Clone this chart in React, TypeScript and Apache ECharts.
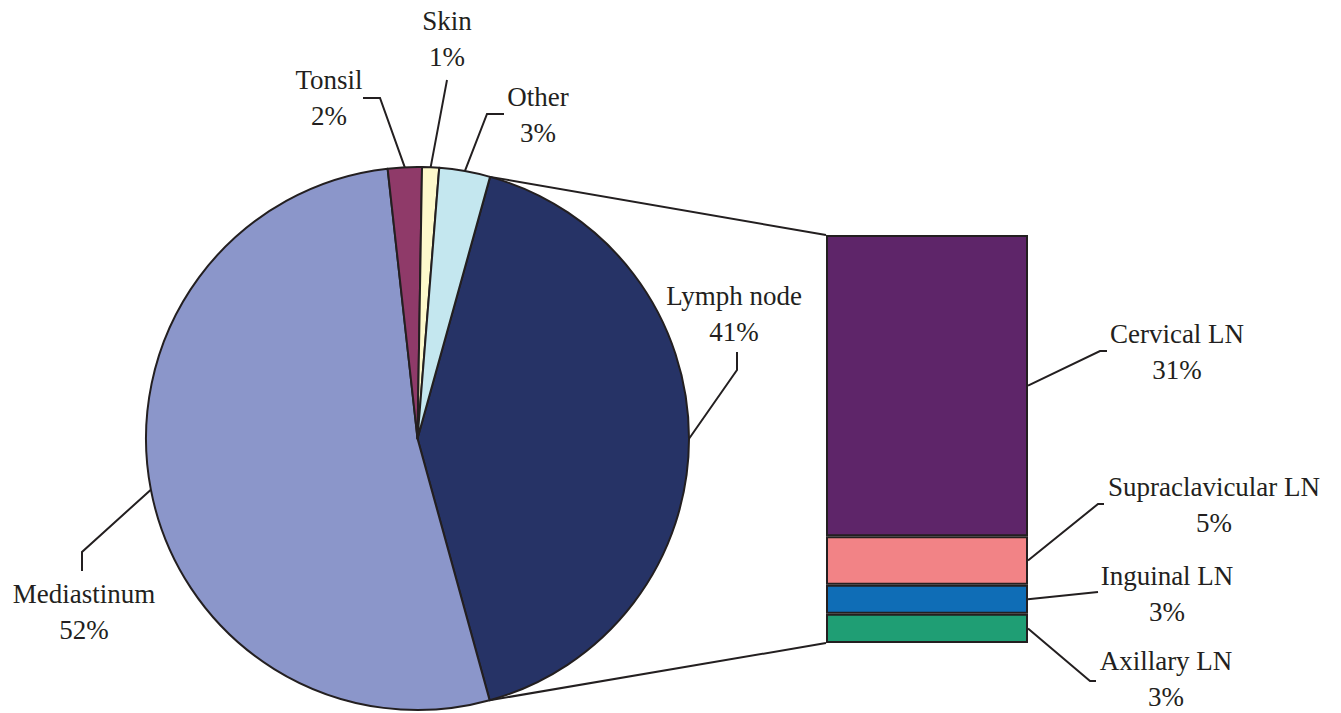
import { useEffect, useRef } from "react";
import * as echarts from "echarts";

// Primary sites (percent of cases), drawn clockwise from the lymph node slice
const pieNames = ["Lymph node", "Mediastinum", "Tonsil", "Skin", "Other"];
const piePercents = [41, 52, 2, 1, 3];
const pieColors = ["#263366", "#8B96CA", "#8F3A69", "#FDF9CB", "#C4E7EF"];

// Lymph node breakdown, stacked bottom-up
const lnNames = ["Axillary LN", "Inguinal LN", "Supraclavicular LN", "Cervical LN"];
const lnPercents = [3, 3, 5, 31];
const lnColors = ["#1F9E74", "#0F6DB6", "#F28386", "#5E2569"];

const W = 1341;
const H = 713;
const INK = "#231f20";
const FONT = "'Liberation Serif', 'Times New Roman', serif";
const FONT_SIZE = 27;
const LINE_H = 36;

const PIE_CX = 417.5;
const PIE_CY = 438.5;
const PIE_R = 271.5;
const PIE_START = 74.5;

const BAR_GRID = { left: 826, top: 235, width: 202, height: 408 };

type Pt = [number, number];
interface LabelPlace {
  x: number;
  y: number;
  bend: Pt;
  end: Pt;
}

// Label block centres and leader-line elbows
const pieLabelPlace: Record<string, LabelPlace> = {
  "Lymph node": { x: 734, y: 314, bend: [737, 370], end: [737, 352] },
  Mediastinum: { x: 84, y: 612, bend: [82, 552], end: [82, 571] },
  Tonsil: { x: 329, y: 98, bend: [380, 98], end: [363, 98] },
  Skin: { x: 447, y: 39, bend: [447, 80], end: [447, 80] },
  Other: { x: 538, y: 115, bend: [487, 114], end: [504, 114] },
};

const lnLabelPlace: Record<string, LabelPlace> = {
  "Cervical LN": { x: 1177, y: 352, bend: [1100, 351], end: [1107, 351] },
  "Supraclavicular LN": { x: 1214, y: 505, bend: [1098, 504], end: [1104, 504] },
  "Inguinal LN": { x: 1167, y: 594, bend: [1098, 592], end: [1098, 592] },
  "Axillary LN": { x: 1166, y: 679, bend: [1090, 681], end: [1096, 681] },
};

const textStyle = {
  fontFamily: FONT,
  fontSize: FONT_SIZE,
  lineHeight: LINE_H,
  color: INK,
};

export default function App() {
  const ref = useRef<HTMLDivElement>(null);

  useEffect(() => {
    if (!ref.current) return;
    const chart = echarts.init(ref.current, undefined, { renderer: "svg" });

    const pieTotal = piePercents.reduce((a, b) => a + b, 0);
    const lnTotal = lnPercents.reduce((a, b) => a + b, 0);

    const pieSeries: any = {
      type: "pie",
      center: [PIE_CX, PIE_CY],
      radius: PIE_R,
      startAngle: PIE_START,
      clockwise: true,
      avoidLabelOverlap: false,
      silent: true,
      z: 3,
      data: pieNames.map((name, i) => ({
        name,
        value: piePercents[i],
        itemStyle: { color: pieColors[i] },
      })),
      itemStyle: { borderColor: INK, borderWidth: 2 },
      label: {
        show: true,
        position: "outside",
        formatter: "{b}\n{c}%",
        ...textStyle,
      },
      labelLine: {
        show: true,
        length: 20,
        length2: 10,
        lineStyle: { color: INK, width: 2 },
      },
      labelLayout: (params: any) => {
        const place = pieLabelPlace[pieNames[params.dataIndex]];
        let start: Pt;
        if (params.labelLinePoints && params.labelLinePoints[0]) {
          start = params.labelLinePoints[0];
        } else {
          let before = 0;
          for (let k = 0; k < params.dataIndex; k++) before += piePercents[k];
          const mid =
            ((PIE_START - ((before + piePercents[params.dataIndex] / 2) / pieTotal) * 360) *
              Math.PI) /
            180;
          start = [PIE_CX + PIE_R * Math.cos(mid), PIE_CY - PIE_R * Math.sin(mid)];
        }
        return {
          x: place.x,
          y: place.y,
          align: "center",
          verticalAlign: "middle",
          labelLinePoints: [start, place.bend, place.end],
        };
      },
    };

    const barSeries = lnNames.map((name, i) => ({
      type: "bar",
      name,
      stack: "ln",
      barWidth: "100%",
      silent: true,
      data: [lnPercents[i]],
      itemStyle: { color: lnColors[i], borderColor: INK, borderWidth: 2 },
      label: {
        show: true,
        position: "right",
        formatter: "{a}\n{c}%",
        ...textStyle,
      },
      labelLayout: () => {
        const place = lnLabelPlace[name];
        return { x: place.x, y: place.y, align: "center", verticalAlign: "middle" };
      },
    }));

    chart.setOption({
      animation: false,
      backgroundColor: "#ffffff",
      grid: { ...BAR_GRID, containLabel: false },
      xAxis: { type: "category", data: ["Lymph node"], show: false },
      yAxis: { type: "value", min: 0, max: lnTotal, show: false },
      series: [pieSeries, ...barSeries],
    });

    // Connector lines from the lymph node slice edges to the stacked bar corners
    const lnShare = piePercents[0] / pieTotal;
    const a0 = (PIE_START * Math.PI) / 180;
    const a1 = ((PIE_START - lnShare * 360) * Math.PI) / 180;
    const p0: Pt = [PIE_CX + PIE_R * Math.cos(a0), PIE_CY - PIE_R * Math.sin(a0)];
    const p1: Pt = [PIE_CX + PIE_R * Math.cos(a1), PIE_CY - PIE_R * Math.sin(a1)];
    const yTop = chart.convertToPixel({ yAxisIndex: 0 }, lnTotal) as number;
    const yBottom = chart.convertToPixel({ yAxisIndex: 0 }, 0) as number;
    const barLeft = BAR_GRID.left;
    const barRight = BAR_GRID.left + BAR_GRID.width;

    const graphics: any[] = [
      {
        type: "line",
        z: 1,
        shape: { x1: p0[0], y1: p0[1], x2: barLeft, y2: yTop },
        style: { stroke: INK, lineWidth: 2 },
      },
      {
        type: "line",
        z: 1,
        shape: { x1: p1[0], y1: p1[1], x2: barLeft, y2: yBottom },
        style: { stroke: INK, lineWidth: 2 },
      },
    ];

    // Leader lines for the bar segment labels
    let cum = 0;
    lnNames.forEach((name, i) => {
      const midY = chart.convertToPixel({ yAxisIndex: 0 }, cum + lnPercents[i] / 2) as number;
      cum += lnPercents[i];
      const place = lnLabelPlace[name];
      graphics.push({
        type: "polyline",
        z: 1,
        shape: { points: [[barRight, midY], place.bend, place.end] },
        style: { stroke: INK, lineWidth: 2, fill: null },
      });
    });

    chart.setOption({ graphic: graphics });

    return () => chart.dispose();
  }, []);

  return (
    <div
      ref={ref}
      style={{ position: "fixed", left: 0, top: 0, width: W, height: H }}
    />
  );
}
